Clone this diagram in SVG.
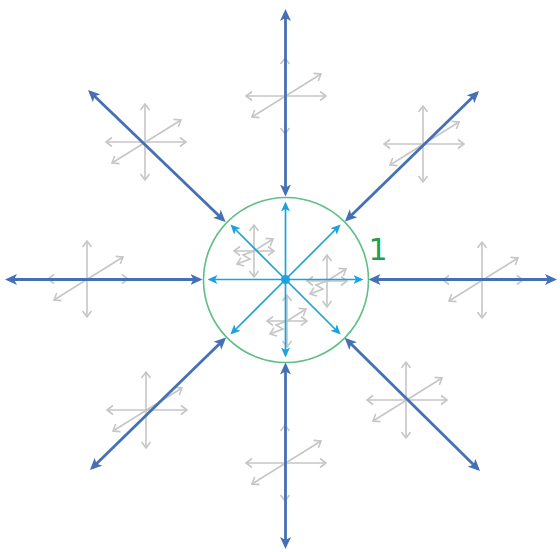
<svg xmlns="http://www.w3.org/2000/svg" xmlns:xlink="http://www.w3.org/1999/xlink" width="560" height="552" viewBox="0 0 560 552">
<style>
.g{stroke:#c6c6c6;stroke-width:1.6;fill:none;marker-start:url(#mg);marker-end:url(#mg)}
.b{stroke:#4670b5;stroke-width:2.8;fill:none;marker-start:url(#mb);marker-end:url(#mb)}
.c{stroke:#1ba3e1;stroke-width:1.7;fill:none;marker-end:url(#mc)}
.lbl{font-family:"DejaVu Sans","Liberation Sans",sans-serif;font-size:30px;fill:#1f9d50}
</style>
<defs>
<marker id="mg" viewBox="-8 -6 10 12" markerWidth="10" markerHeight="12" refX="0" refY="0" orient="auto-start-reverse" markerUnits="userSpaceOnUse">
<path d="M-6,-4.5 L0,0 L-6,4.5" fill="none" stroke="#c6c6c6" stroke-width="1.6"/>
</marker>
<marker id="mb" viewBox="0 0 12 12" markerWidth="12" markerHeight="12" refX="9" refY="6" orient="auto-start-reverse" markerUnits="userSpaceOnUse">
<path d="M0,0.5 L12,6 L0,11.5 L3,6 z" fill="#4670b5"/>
</marker>
<marker id="mc" viewBox="0 0 10 10" markerWidth="10" markerHeight="10" refX="7" refY="5" orient="auto" markerUnits="userSpaceOnUse">
<path d="M0,0.5 L10,5 L0,9.5 L2.5,5 z" fill="#1ba3e1"/>
</marker>
<g id="gc">
<line class="g" x1="0" y1="38" x2="0" y2="-38"/>
<line class="g" x1="-39" y1="0" x2="41" y2="0"/>
<line class="g" x1="-33" y1="21" x2="36" y2="-22"/>
</g>
<g id="gs">
<line class="g" x1="0" y1="26" x2="0" y2="-26"/>
<line class="g" x1="-20" y1="0" x2="20" y2="0"/>
<polyline class="g" points="19,-12 0,0 -11,4 -4,8 -17,13"/>
</g>
</defs>

<g id="clusters">
<g id="cl-top"><use xlink:href="#gc" x="285" y="96"/></g>
<g id="cl-ul"><use xlink:href="#gc" x="145" y="142"/></g>
<g id="cl-ur"><use xlink:href="#gc" x="423" y="144"/></g>
<g id="cl-left"><use xlink:href="#gc" x="87" y="279"/></g>
<g id="cl-right"><use xlink:href="#gc" x="482" y="280"/></g>
<g id="cl-ll"><use xlink:href="#gc" x="146" y="410"/></g>
<g id="cl-bottom"><use xlink:href="#gc" x="285" y="463"/></g>
<g id="cl-lr"><use xlink:href="#gc" x="406" y="400"/></g>
<g id="cl-in-a"><use xlink:href="#gs" x="254" y="251"/></g>
<g id="cl-in-b"><use xlink:href="#gs" x="327" y="281"/></g>
<g id="cl-in-c"><use xlink:href="#gs" x="287" y="321"/></g>
</g>

<g id="unit-circle">
<circle cx="286" cy="280" r="82.5" fill="none" stroke="#5fbf88" stroke-width="1.6"/>
</g>

<g id="connectors">
<g id="inner">
<line class="c" x1="285.5" y1="279.5" x2="285.5" y2="204.5"/>
<line class="c" x1="285.5" y1="279.5" x2="285.5" y2="354.5"/>
<line class="c" x1="285.5" y1="279.5" x2="210.5" y2="279.5"/>
<line class="c" x1="285.5" y1="279.5" x2="360.5" y2="279.5"/>
<line class="c" x1="285.5" y1="279.5" x2="232.5" y2="226.5"/>
<line class="c" x1="285.5" y1="279.5" x2="338.5" y2="226.5"/>
<line class="c" x1="285.5" y1="279.5" x2="232.5" y2="332.5"/>
<line class="c" x1="285.5" y1="279.5" x2="338.5" y2="332.5"/>
<circle cx="285.5" cy="279.5" r="4.5" fill="#1ba3e1"/>
</g>
<g id="outer">
<line class="b" x1="285.5" y1="193.5" x2="285.5" y2="12"/>
<line class="b" x1="285.5" y1="365.5" x2="285.5" y2="546"/>
<line class="b" x1="199.5" y1="279.5" x2="8" y2="279.5"/>
<line class="b" x1="371.5" y1="279.5" x2="554" y2="279.5"/>
<line class="b" x1="223.4" y1="220" x2="90.2" y2="92.1"/>
<line class="b" x1="347.1" y1="219.5" x2="476.9" y2="93.1"/>
<line class="b" x1="346.8" y1="339.8" x2="477.9" y2="468.9"/>
<line class="b" x1="223.9" y1="339.5" x2="92.1" y2="467.9"/>
</g>
</g>

<g id="label">
<text class="lbl" x="378" y="260" text-anchor="middle">1</text>
</g>
</svg>
